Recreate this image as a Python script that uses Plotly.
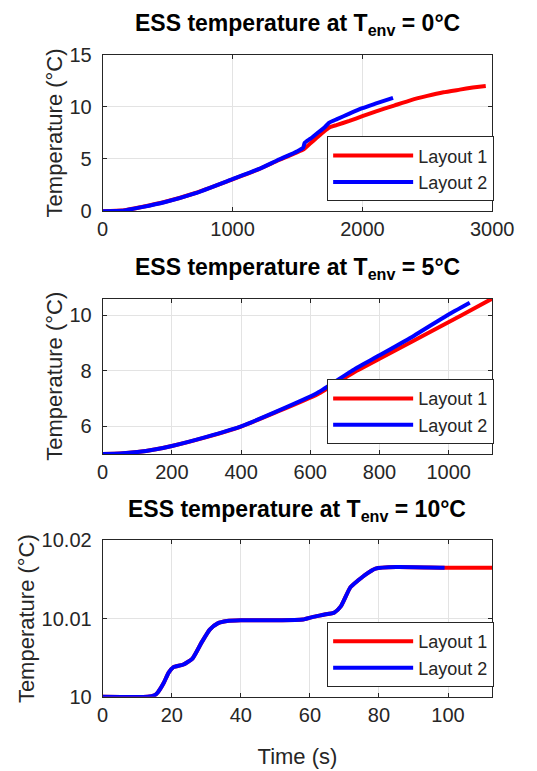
import plotly.graph_objects as go

# ---------------- data ----------------
series_names = ["Layout 1", "Layout 2"]
env_temps = ["0", "5", "10"]

# Panel 1: T_env = 0 °C
time_0C_layout1 = [0, 150, 300, 475, 715, 1000, 1200, 1350, 1500, 1550, 1600, 1650, 1700, 1750,
                   1800, 1900, 2000, 2100, 2250, 2375, 2500, 2625, 2750, 2850, 2950]
temp_0C_layout1 = [0, 0.05, 0.4, 0.87, 1.74, 3.05, 4.0, 4.85, 5.65, 5.95, 6.5, 7.05, 7.6, 8.05,
                   8.25, 8.65, 9.1, 9.55, 10.15, 10.65, 11.05, 11.4, 11.65, 11.85, 12.0]
time_0C_layout2 = [0, 150, 300, 475, 715, 1000, 1200, 1350, 1500, 1545, 1555, 1600, 1650, 1710,
                   1740, 1800, 1900, 2000, 2100, 2236]
temp_0C_layout2 = [0, 0.03, 0.38, 0.85, 1.72, 3.07, 4.02, 4.9, 5.75, 6.1, 6.55, 6.95, 7.45, 8.05,
                   8.45, 8.8, 9.35, 9.87, 10.3, 10.87]

# Panel 2: T_env = 5 °C
time_5C_layout1 = [0, 50, 100, 150, 200, 300, 400, 500, 620, 734, 800, 900, 1036, 1126]
temp_5C_layout1 = [5.0, 5.02, 5.07, 5.16, 5.29, 5.61, 5.99, 6.5, 7.15, 8.0, 8.44, 9.1, 10.0, 10.61]
time_5C_layout2 = [0, 50, 100, 150, 200, 300, 400, 500, 620, 720, 800, 900, 995, 1061]
temp_5C_layout2 = [5.0, 5.02, 5.07, 5.16, 5.29, 5.62, 6.0, 6.52, 7.2, 8.0, 8.56, 9.27, 10.0, 10.46]

# Panel 3: T_env = 10 °C
time_10C_layout2 = [0, 13, 15, 16, 17.7, 19.1, 20.5, 23.2, 26, 28.7, 31, 33.3, 36, 40, 50, 58,
                    60.7, 64, 67.1, 69, 71.7, 74, 76.3, 79, 85, 99]
temp_10C_layout2 = [10, 10, 10.0002, 10.0006, 10.0018, 10.0031, 10.0038, 10.0041, 10.0049, 10.007,
                    10.0086, 10.0094, 10.0097, 10.0098, 10.0098, 10.0099, 10.0102, 10.0105, 10.0108,
                    10.0116, 10.014, 10.0149, 10.0157, 10.0164, 10.0166, 10.0165]
time_10C_layout1 = time_10C_layout2 + [106, 112.8]
temp_10C_layout1 = temp_10C_layout2 + [10.0165, 10.0165]

# axis ranges / ticks
x_ranges = [[0, 3000], [0, 1126], [0, 112.8]]
y_ranges = [[0, 15], [5, 10.61], [10, 10.02]]
x_ticks = [[0, 1000, 2000, 3000], [0, 200, 400, 600, 800, 1000], [0, 20, 40, 60, 80, 100]]
y_ticks = [[0, 5, 10, 15], [6, 8, 10], [10, 10.01, 10.02]]
y_ticktext = [["0", "5", "10", "15"], ["6", "8", "10"], ["10", "10.01", "10.02"]]

x_label = "Time (s)"
y_label = "Temperature (°C)"

# ---------------- figure ----------------
W, H = 537, 771
RED, BLUE = "#ff0000", "#0000ff"
INK = "#262626"
FONT = "Liberation Sans, Arial, sans-serif"

panels = [
    (time_0C_layout1, temp_0C_layout1, time_0C_layout2, temp_0C_layout2, "spline", 0.35),
    (time_5C_layout1, temp_5C_layout1, time_5C_layout2, temp_5C_layout2, "spline", 0.5),
    (time_10C_layout1, temp_10C_layout1, time_10C_layout2, temp_10C_layout2, "spline", 0.5),
]

# pixel boxes of the three axes (top, bottom) and shared left/right
left_px, right_px = 102, 513
tops = [45, 296, 545]
bottoms = [206, 456, 706]
legend_tops = [129, 379, 629]
legend_right = 515

fig = go.Figure()
for i, (t1, T1, t2, T2, shape, sm) in enumerate(panels):
    sfx = "" if i == 0 else str(i + 1)
    leg = "legend" + sfx
    for t, T, col, name in [(t1, T1, RED, series_names[0]), (t2, T2, BLUE, series_names[1])]:
        fig.add_trace(go.Scatter(
            x=t, y=T, mode="lines", name=name,
            line=dict(color=col, width=4, shape=shape, smoothing=sm),
            xaxis="x" + sfx, yaxis="y" + sfx, legend=leg, showlegend=True,
        ))

layout = dict(
    width=W, height=H,
    margin=dict(l=0, r=0, t=0, b=0),
    paper_bgcolor="white", plot_bgcolor="white",
    font=dict(family=FONT, color=INK, size=20),
    annotations=[],
)

for i in range(3):
    sfx = "" if i == 0 else str(i + 1)
    xd = [left_px / W, right_px / W]
    yd = [1 - bottoms[i] / H, 1 - tops[i] / H]
    common = dict(
        showline=True, linecolor=INK, linewidth=1, mirror="allticks",
        ticks="inside", ticklen=4, tickcolor=INK,
        showgrid=True, gridcolor="#e3e3e3", gridwidth=1,
        zeroline=False, tickfont=dict(family=FONT, size=20, color=INK),
    )
    layout["xaxis" + sfx] = dict(
        common, domain=xd, anchor="y" + sfx, range=x_ranges[i],
        tickmode="array", tickvals=x_ticks[i], ticktext=[str(v) for v in x_ticks[i]],
        ticklabelstandoff=0,
        title=dict(text=x_label if i == 2 else "", font=dict(size=22, color=INK), standoff=23),
    )
    layout["yaxis" + sfx] = dict(
        common, domain=yd, anchor="x" + sfx, range=y_ranges[i],
        tickmode="array", tickvals=y_ticks[i], ticktext=y_ticktext[i],
        ticklabelstandoff=6,
        title=dict(text=y_label, font=dict(size=22, color=INK), standoff=0),
    )
    layout["legend" + sfx] = dict(
        x=legend_right / W, xanchor="right", y=1 - legend_tops[i] / H, yanchor="top",
        bgcolor="white", bordercolor=INK, borderwidth=1,
        font=dict(family=FONT, size=18, color=INK),
        itemwidth=80, tracegroupgap=0, traceorder="normal",
    )
    layout["annotations"].append(dict(
        text="<b>ESS temperature at T<sub>env</sub> = %s°C</b>" % env_temps[i],
        xref="paper", yref="paper", x=(left_px + right_px) / 2 / W,
        y=1 - (tops[i] - 14) / H, xanchor="center", yanchor="bottom",
        showarrow=False, font=dict(family=FONT, size=23, color="#000000"),
    ))

fig.update_layout(**layout)
fig.write_html("out.html")
